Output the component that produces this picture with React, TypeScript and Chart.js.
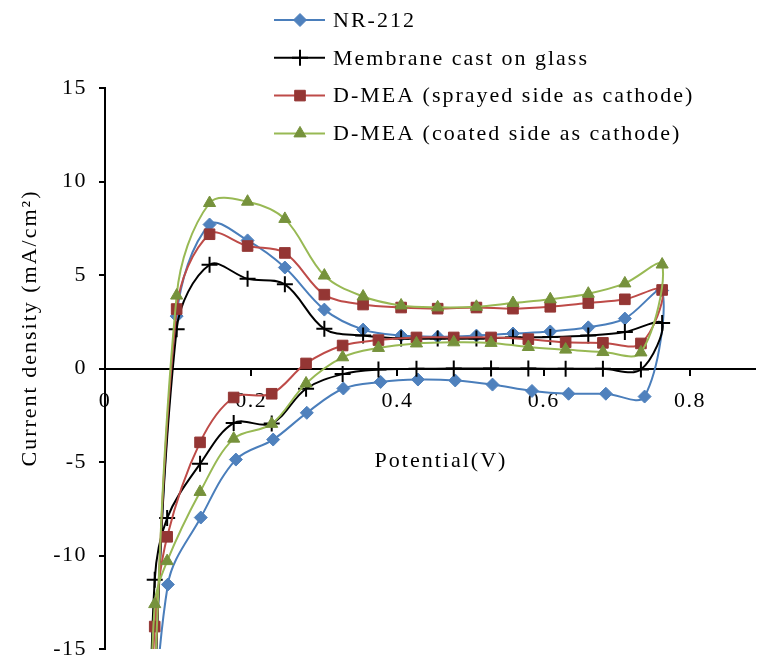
import React, { useEffect, useRef } from 'react';
import { Chart, registerables } from 'chart.js';
import { drawPoint } from 'chart.js/helpers';

Chart.register(...registerables);

// ---- Data ----
const seriesNames = [
  'NR-212',
  'Membrane cast on glass',
  'D-MEA (sprayed side as cathode)',
  'D-MEA (coated side as cathode)',
];

// potential (V) of the forward (anodic) scan points
const forwardX = [0.098, 0.143, 0.195, 0.246, 0.3, 0.353, 0.405, 0.455, 0.508, 0.558, 0.609, 0.661, 0.711, 0.762];
// potential (V) of the backward (cathodic) scan points
const backwardX = [0.733, 0.681, 0.63, 0.579, 0.528, 0.477, 0.426, 0.374, 0.325, 0.275, 0.228, 0.176, 0.13, 0.085, 0.068];
const nr212BackwardX = [0.738, 0.685, 0.634, 0.584, 0.53, 0.479, 0.428, 0.377, 0.326, 0.276, 0.23, 0.179, 0.131, 0.086];

// current density (mA/cm2)
const nr212Forward = [2.8, 7.7, 6.85, 5.4, 3.15, 2.08, 1.76, 1.7, 1.76, 1.87, 1.98, 2.2, 2.67, 4.17];
const nr212Backward = [-1.5, -1.35, -1.35, -1.2, -0.86, -0.64, -0.59, -0.72, -1.07, -2.37, -3.8, -4.87, -7.97, -11.55];
const castForward = [2.1, 5.55, 4.8, 4.5, 2.12, 1.76, 1.6, 1.6, 1.6, 1.66, 1.68, 1.76, 1.95, 2.43];
const castBackward = [-0.05, -0.02, -0.02, 0, 0, 0, -0.02, -0.05, -0.3, -1.08, -2.94, -2.92, -5.1, -8.0, -11.3];
const sprayedForward = [3.18, 7.18, 6.55, 6.18, 3.95, 3.42, 3.26, 3.2, 3.26, 3.2, 3.3, 3.5, 3.7, 4.2];
const sprayedBackward = [1.34, 1.37, 1.4, 1.57, 1.66, 1.66, 1.66, 1.52, 1.23, 0.27, -1.35, -1.55, -3.95, -9.0, -13.8];
const coatedForward = [3.9, 8.85, 8.92, 8.0, 4.97, 3.85, 3.37, 3.27, 3.3, 3.5, 3.7, 4.0, 4.55, 5.56];
const coatedBackward = [0.86, 0.88, 1.01, 1.15, 1.37, 1.4, 1.34, 1.1, 0.6, -0.8, -2.96, -3.75, -6.6, -10.3, -12.6];

// scan turning point below the visible range (start = end of each loop)
const turnX = [0.058, 0.058, 0.058, 0.058];
const turnY = [-26, -26, -26, -26];

const xTicks = [0, 0.2, 0.4, 0.6, 0.8];
const yTicks = [-15, -10, -5, 0, 5, 10, 15];

const lineColors = ['#4A7EBB', '#000000', '#BE4B48', '#98B954'];
const markerColors = ['#4F81BD', '#000000', '#943634', '#76923C'];
const markerStyles = ['rectRot', 'cross', 'rect', 'triangle'];
const markerRadii = [6.5, 8, 7.5, 7];

const FONT = '"Liberation Serif", "Times New Roman", serif';

function loop(i: number, fx: number[], fy: number[], bx: number[], by: number[]) {
  const pts = [{ x: turnX[i], y: turnY[i] }];
  fx.forEach((x, k) => pts.push({ x, y: fy[k] }));
  bx.forEach((x, k) => pts.push({ x, y: by[k] }));
  pts.push({ x: turnX[i], y: turnY[i] });
  return pts;
}

const titlesAndLegend = {
  id: 'titlesAndLegend',
  beforeDraw(chart: any) {
    chart.ctx.letterSpacing = '1.5px';
  },
  afterDraw(chart: any) {
    const ctx = chart.ctx;
    ctx.save();
    ctx.letterSpacing = '2px';
    ctx.fillStyle = '#000';
    ctx.font = `22px ${FONT}`;
    ctx.textAlign = 'center';
    ctx.textBaseline = 'middle';
    ctx.fillText('Potential(V)', 441, 461);
    ctx.save();
    ctx.translate(30, 328);
    ctx.rotate(-Math.PI / 2);
    ctx.fillText('Current density (mA/cm\u00B2)', 0, 0);
    ctx.restore();

    chart.data.datasets.forEach((ds: any, i: number) => {
      const y = 20 + i * 37.8;
      ctx.strokeStyle = ds.borderColor;
      ctx.lineWidth = 2;
      ctx.beginPath();
      ctx.moveTo(274, y);
      ctx.lineTo(325, y);
      ctx.stroke();
      ctx.fillStyle = ds.pointBackgroundColor;
      ctx.strokeStyle = ds.pointBorderColor;
      ctx.lineWidth = ds.pointBorderWidth;
      drawPoint(ctx, { pointStyle: ds.pointStyle, rotation: 0, radius: ds.pointRadius, borderWidth: ds.pointBorderWidth }, 300, y);
      ctx.fillStyle = '#000';
      ctx.textAlign = 'left';
      ctx.textBaseline = 'middle';
      ctx.fillText(ds.label, 333, y + 1);
    });
    ctx.restore();
  },
};

export default function App() {
  const ref = useRef<HTMLCanvasElement>(null);
  useEffect(() => {
    document.body.style.margin = '0';
    const forwardY = [nr212Forward, castForward, sprayedForward, coatedForward];
    const backwardY = [nr212Backward, castBackward, sprayedBackward, coatedBackward];
    const bxs = [nr212BackwardX, backwardX, backwardX, backwardX];
    const drawOrder = [3, 2, 1, 0];
    const datasets = seriesNames.map((name, i) => ({
      label: name,
      data: loop(i, forwardX, forwardY[i], bxs[i], backwardY[i]),
      showLine: true,
      borderColor: lineColors[i],
      borderWidth: 2,
      tension: 0.35,
      pointStyle: markerStyles[i],
      pointRadius: markerRadii[i],
      pointBackgroundColor: markerColors[i],
      pointBorderColor: markerColors[i],
      pointBorderWidth: i === 1 ? 2 : 1,
      order: drawOrder[i],
    }));
    const chart = new Chart(ref.current as HTMLCanvasElement, {
      type: 'scatter',
      data: { datasets },
      plugins: [titlesAndLegend],
      options: {
        animation: false,
        responsive: false,
        maintainAspectRatio: false,
        devicePixelRatio: 1,
        layout: { padding: { top: 88, bottom: 15, left: 0, right: 0 } },
        plugins: { legend: { display: false }, tooltip: { enabled: false }, title: { display: false } },
        scales: {
          x: {
            type: 'linear',
            position: { y: 0 } as any,
            min: 0,
            max: 0.889,
            afterBuildTicks: (s: any) => { s.ticks = xTicks.map((v) => ({ value: v })); },
            afterFit: (s: any) => { s.paddingLeft = 0; s.paddingRight = 0; s.paddingTop = 0; s.paddingBottom = 0; },
            ticks: {
              color: '#000',
              font: { family: FONT, size: 22 },
              padding: 14,
              maxRotation: 0,
              autoSkip: false,
              callback: (v: any) => String(v),
            },
            grid: { display: true, drawOnChartArea: false, drawTicks: true, tickLength: 6, color: '#000', lineWidth: 2 },
            border: { display: true, color: '#000', width: 2 },
          },
          y: {
            type: 'linear',
            position: 'left',
            min: -15,
            max: 15,
            afterBuildTicks: (s: any) => { s.ticks = yTicks.map((v) => ({ value: v })); },
            afterFit: (s: any) => { s.width = 105; s.paddingTop = 0; s.paddingBottom = 0; },
            ticks: {
              color: '#000',
              font: { family: FONT, size: 22 },
              padding: 12,
              callback: (v: any) => String(v),
            },
            grid: { display: true, drawOnChartArea: false, drawTicks: true, tickLength: 6, color: '#000', lineWidth: 2 },
            border: { display: true, color: '#000', width: 2 },
          },
        },
      },
    });
    return () => chart.destroy();
  }, []);
  return (
    <div style={{ width: 765, height: 664, background: '#fff' }}>
      <canvas ref={ref} width={765} height={664} style={{ display: 'block' }} />
    </div>
  );
}
